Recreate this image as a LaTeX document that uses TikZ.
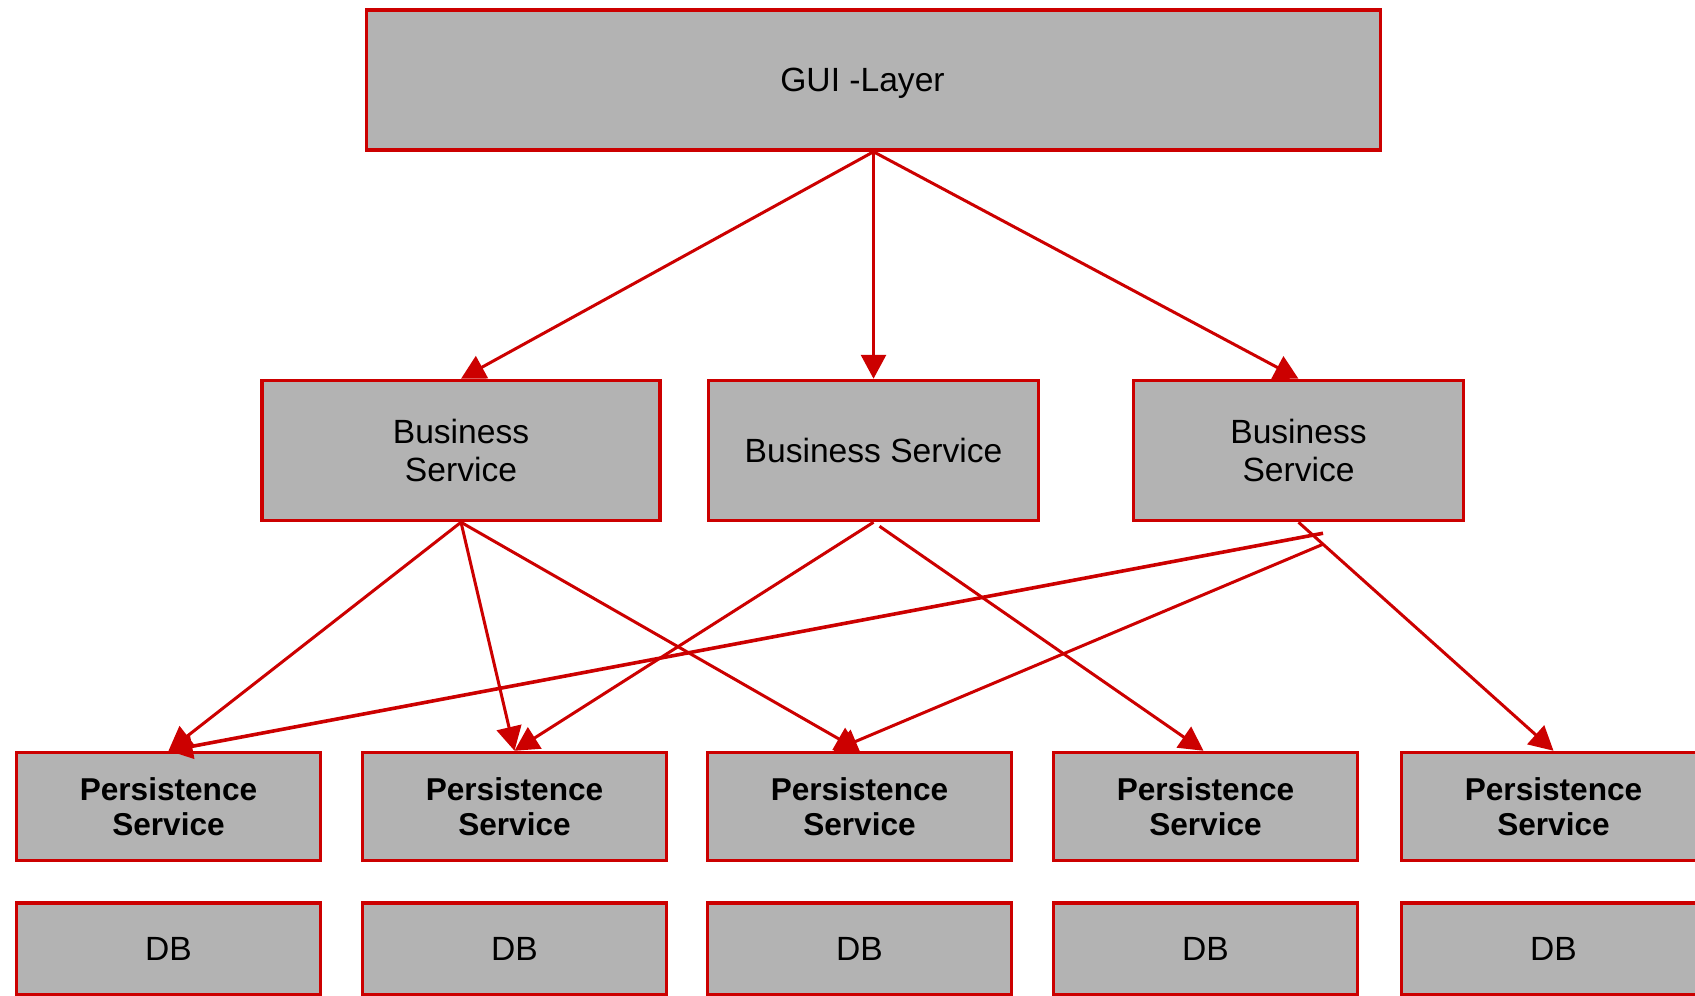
\documentclass[tikz,border=0pt]{standalone}
\usepackage{fontspec}
\setmainfont{Liberation Sans}
\usetikzlibrary{arrows.meta}
\definecolor{edgered}{HTML}{CC0000}
\definecolor{boxgray}{HTML}{B3B3B3}

\begin{document}
\begin{tikzpicture}[x=0.5pt,y=-0.5pt,
  layer/.style={draw=edgered, fill=boxgray, line width=1.75pt, inner sep=0pt,
    align=center, text depth=0pt, font=\fontsize{16.8pt}{19pt}\selectfont},
  twoline/.style={text depth=-2pt},
  persist/.style={layer, twoline, minimum width=152pt, minimum height=54pt,
    font=\bfseries\fontsize{15.8pt}{17.8pt}\selectfont},
  dbbox/.style={layer, minimum width=152pt, minimum height=46pt},
  link/.style={draw=edgered, line width=1.5pt,
    -{Triangle[length=12pt,width=12.5pt]}},
]
\useasboundingbox (0,0) rectangle (1695,995);
\clip (0,0) rectangle (1695,995);

% top layer
\node[layer, minimum width=507pt, minimum height=70pt] (gui) at (873.5,80)
  {GUI -Layer\hspace*{11pt}};

% business services
\node[layer, twoline, minimum width=199pt, minimum height=70pt] (b1) at (461,450.5) {Business\\Service};
\node[layer, minimum width=165pt, minimum height=70pt] (b2) at (873.5,450.5) {Business Service};
\node[layer, twoline, minimum width=165pt, minimum height=70pt] (b3) at (1298.5,450.5) {Business\\Service};

% persistence services
\node[persist] (p1) at (168.5,806.5) {Persistence\\Service};
\node[persist] (p2) at (514.5,806.5) {Persistence\\Service};
\node[persist] (p3) at (859.5,806.5) {Persistence\\Service};
\node[persist] (p4) at (1205.5,806.5) {Persistence\\Service};
\node[persist] (p5) at (1553.5,806.5) {Persistence\\Service};

% databases
\node[dbbox] (d1) at (168.5,949) {DB};
\node[dbbox] (d2) at (514.5,949) {DB};
\node[dbbox] (d3) at (859.5,949) {DB};
\node[dbbox] (d4) at (1205.5,949) {DB};
\node[dbbox] (d5) at (1553.5,949) {DB};

% GUI to business layer
\draw[link] (gui.south) -- (b1.north);
\draw[link] (gui.south) -- (b2.north);
\draw[link] (gui.south) -- (b3.north);

% business to persistence layer
\draw[link] (b1.south) -- (p1.north);
\draw[link] (b1.south) -- (p2.north);
\draw[link] (b1.south) -- (p3.north);
\draw[link] (b2.south) -- (p2.north);
\draw[link] ([xshift=3pt,yshift=-2pt]b2.south) -- ([xshift=-1pt]p4.north);
\draw[link, line width=1.8pt] ([xshift=12.25pt,yshift=-5.5pt]b3.south) -- (p1.north);
\draw[link] ([xshift=12.25pt,yshift=-11pt]b3.south) -- ([xshift=-13pt]p3.north);
\draw[link] (b3.south) -- (p5.north);
\end{tikzpicture}
\end{document}
